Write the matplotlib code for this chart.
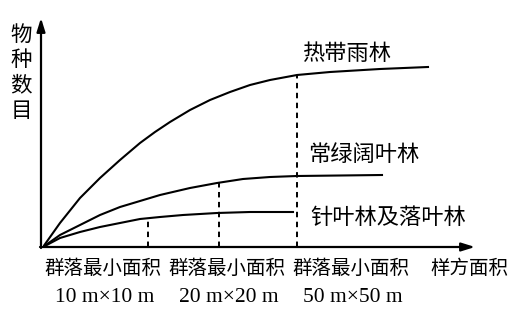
import matplotlib
matplotlib.use("Agg")
import matplotlib.pyplot as plt

plt.rcParams['font.family'] = ['Noto Sans CJK SC', 'DejaVu Sans']

# curves (x: sample area, y: species count, arbitrary units)
tropical_x = [0, 17, 37, 57, 77, 97, 112, 127, 147, 167, 187, 207, 227, 254, 287, 337, 385]
tropical_y = [0, 24, 49, 69, 87, 104, 115, 125, 137, 147, 155, 162, 167, 172, 175, 178, 180]

evergreen_x = [0, 17, 37, 57, 77, 97, 117, 147, 174, 200, 227, 254, 297, 339]
evergreen_y = [0, 12, 22, 32, 40, 46, 52, 59, 64, 68, 70, 71, 71.5, 72]

conifer_x = [0, 17, 37, 57, 77, 97, 117, 140, 174, 207, 250]
conifer_y = [0, 9, 15, 20, 24, 28, 30, 32, 34, 35, 35]

# minimum community areas (dashed markers)
min_area_x = [105, 176, 254]
min_area_y = [29, 64, 172]
min_area_labels = ["10 m×10 m", "20 m×20 m", "50 m×50 m"]

curve_names = ["热带雨林", "常绿阔叶林", "针叶林及落叶林"]

W, H = 440, 235
fig = plt.figure(figsize=(5.23, 3.14), dpi=100)
ax = fig.add_axes([43 / 523, 67 / 314, W / 523, H / 314])
ax.set_xlim(0, W)
ax.set_ylim(0, H)
ax.axis('off')

lw = 1.5
ax.plot(tropical_x, tropical_y, color='black', lw=lw)
ax.plot(evergreen_x, evergreen_y, color='black', lw=lw)
ax.plot(conifer_x, conifer_y, color='black', lw=lw)

for x, y in zip(min_area_x, min_area_y):
    ax.plot([x, x], [0, y], color='black', lw=1.4, dashes=(2.8, 2.3))

# axes with arrows
arrow = dict(arrowstyle='-|>,head_length=0.8,head_width=0.25', color='black', lw=1.6,
             shrinkA=0, shrinkB=0)
ax.annotate('', xy=(432, 0), xytext=(-3, 0), arrowprops=arrow, annotation_clip=False)
ax.annotate('', xy=(-2, 229), xytext=(-2, -1), arrowprops=arrow, annotation_clip=False)

# curve labels
ax.text(259, 194, curve_names[0], fontsize=16, ha='left', va='center')
ax.text(265, 93, curve_names[1], fontsize=16, ha='left', va='center')
ax.text(267, 30, curve_names[2], fontsize=16, ha='left', va='center')

ax.text(-22, 174, "物\n种\n数\n目", fontsize=15.5, ha='center', va='center',
        linespacing=1.2, clip_on=False)

label_x = [60, 184, 308]
for x, lab in zip(label_x, min_area_labels):
    ax.text(x, -21, "群落最小面积", fontsize=14, ha='center', va='center', clip_on=False)
    ax.text(x + 2, -50, lab, fontsize=15.5, family='Liberation Serif',
            ha='center', va='center', clip_on=False)
ax.text(426, -21, "样方面积", fontsize=14, ha='center', va='center', clip_on=False)

fig.savefig("out.png", dpi=100, facecolor='white')
